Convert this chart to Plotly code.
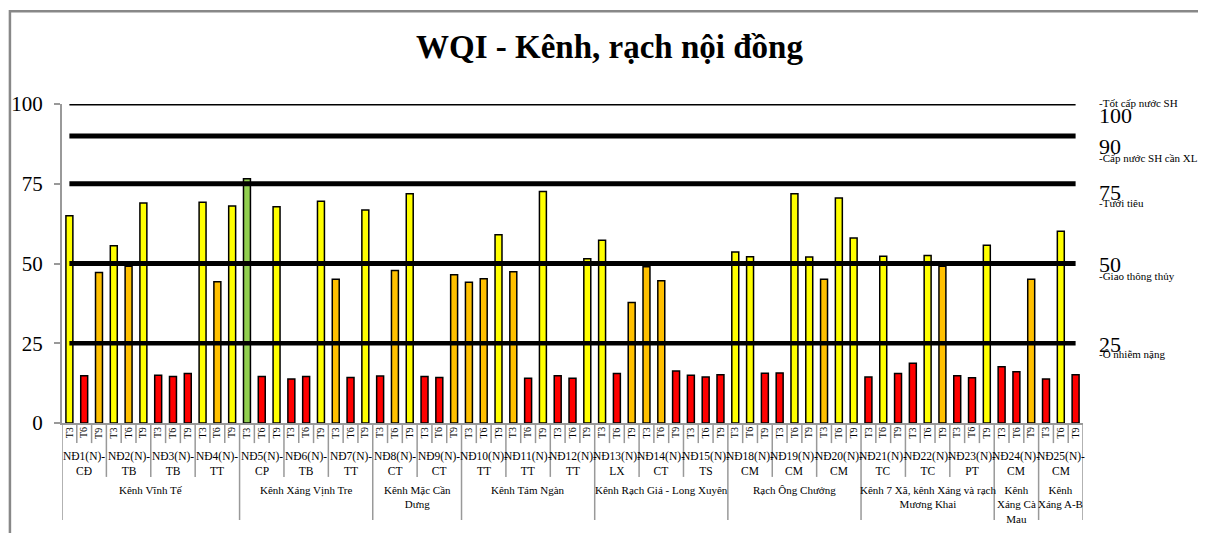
import plotly.graph_objects as go

# ---------------- data ----------------
months = ["T3", "T6", "T9"]
stations = ["NĐ1(N)-", "NĐ2(N)-", "NĐ3(N)-", "NĐ4(N)-", "NĐ5(N)-", "NĐ6(N)-", "NĐ7(N)-",
            "NĐ8(N)-", "NĐ9(N)-", "NĐ10(N)-", "NĐ11(N)-", "NĐ12(N)-", "NĐ13(N)-", "NĐ14(N)-",
            "NĐ15(N)-", "NĐ18(N)-", "NĐ19(N)-", "NĐ20(N)-", "NĐ21(N)-", "NĐ22(N)-", "NĐ23(N)-",
            "NĐ24(N)-", "NĐ25(N)-"]
station_suffix = ["CĐ", "TB", "TB", "TT", "CP", "TB", "TT", "CT", "CT", "TT", "TT", "TT", "LX",
                  "CT", "TS", "CM", "CM", "CM", "TC", "TC", "PT", "CM", "CM"]
groups = ["Kênh Vĩnh Tế", "Kênh Xáng Vịnh Tre", "Kênh Mặc Cần<br>Dưng", "Kênh Tám Ngàn",
          "Kênh Rạch Giá - Long Xuyên", "Rạch Ông Chưởng",
          "Kênh 7 Xã, kênh Xáng và rạch<br>Mương Khai", "Kênh<br>Xáng Cà<br>Mau", "Kênh<br>Xáng A-B"]
group_sizes = [4, 3, 2, 3, 3, 3, 3, 1, 1]  # number of stations per group

wqi = [65.0, 14.8, 47.2,  55.6, 49.1, 69.0,  15.0, 14.6, 15.5,  69.2, 44.3, 68.0,
       76.6, 14.6, 67.8,  13.8, 14.6, 69.5,  45.1, 14.3, 66.8,
       14.7, 47.8, 71.9,  14.6, 14.3, 46.5,
       44.1, 45.2, 59.0,  47.4, 14.0, 72.6,  14.8, 14.0, 51.5,
       57.3, 15.5, 37.8,  49.0, 44.6, 16.3,  15.0, 14.4, 15.1,
       53.6, 52.1, 15.6,  15.7, 71.9, 52.0,  45.1, 70.5, 58.0,
       14.4, 52.3, 15.5,  18.7, 52.5, 49.1,  14.8, 14.2, 55.7,
       17.6, 16.1, 45.1,
       13.8, 60.1, 15.1]

thresholds = [100, 90, 75, 50, 25]
threshold_labels = ["-Tốt cấp nước SH", "-Cấp nước SH cần XL", "-Tưới tiêu",
                    "-Giao thông thủy", "-Ô nhiễm nặng"]

# ---------------- styles ----------------
SERIF = "Liberation Serif"
GRID = "#999999"
line_widths = [3, 5, 5, 5, 4.5]
num_shift = [-11, -11, -9, -1, -1]     # px shift of the big number
lab_shift = [1, -22, -19, -12, -11]    # px shift of the descriptive label


def band_color(v):
    if v < 25:
        return "#FF0000"
    if v < 50:
        return "#FFC000"
    if v < 75:
        return "#FFFF00"
    if v < 90:
        return "#92D050"
    return "#0070C0"


n = len(wqi)
xs = list(range(n))
colors = [band_color(v) for v in wqi]

fig = go.Figure()
fig.add_trace(go.Bar(x=xs, y=wqi, width=0.47, marker=dict(color=colors,
                     line=dict(color="black", width=1.5)), showlegend=False,
                     hoverinfo="y"))

for t, w in zip(thresholds, line_widths):
    fig.add_trace(go.Scatter(x=[xs[0], xs[-1]], y=[t, t], mode="lines",
                             line=dict(color="black", width=w), showlegend=False,
                             hoverinfo="skip"))

shapes = []
annotations = []

# month labels
for i in xs:
    annotations.append(dict(x=i, y=-0.031, xref="x", yref="paper", text=months[i % 3],
                            showarrow=False, textangle=-90, yanchor="middle",
                            font=dict(family=SERIF, size=10, color="black")))
# station labels
for s, (st, suf) in enumerate(zip(stations, station_suffix)):
    annotations.append(dict(x=3 * s + 1, y=-0.127, xref="x", yref="paper",
                            text=st + "<br>" + suf, showarrow=False, yanchor="middle",
                            font=dict(family=SERIF, size=11.5, color="black")))
# group labels
start = 0
group_bounds = [-0.5]
for g, size in zip(groups, group_sizes):
    ncat = 3 * size
    annotations.append(dict(x=start + (ncat - 1) / 2, y=-0.185, xref="x", yref="paper",
                            text=g, showarrow=False, yanchor="top",
                            font=dict(family=SERIF, size=11, color="black")))
    start += ncat
    group_bounds.append(start - 0.5)

station_bounds = [3 * s - 0.5 for s in range(len(stations) + 1)]
for b in range(n + 1):
    xb = b - 0.5
    if xb in group_bounds:
        y1 = -0.304
    elif xb in station_bounds:
        y1 = -0.169
    else:
        y1 = -0.063
    shapes.append(dict(type="line", xref="x", yref="paper", x0=xb, x1=xb, y0=0, y1=y1,
                       line=dict(color=GRID, width=1.5)))

# threshold labels on right
for t, lab, ns, ls in zip(thresholds, threshold_labels, num_shift, lab_shift):
    annotations.append(dict(x=1.014, y=t, xref="paper", yref="y", text=str(t),
                            showarrow=False, xanchor="left", yanchor="middle", yshift=ns,
                            font=dict(family=SERIF, size=22, color="black")))
    annotations.append(dict(x=1.014, y=t, xref="paper", yref="y", text=lab,
                            showarrow=False, xanchor="left", yanchor="middle", yshift=ls,
                            font=dict(family=SERIF, size=11, color="black")))

# title
annotations.append(dict(x=0.536, y=1.179, xref="paper", yref="paper",
                        text="<b>WQI - Kênh, rạch nội đồng</b>", showarrow=False,
                        yanchor="middle",
                        font=dict(family=SERIF, size=33, color="black")))

# outer frame
shapes.append(dict(type="rect", xref="paper", yref="paper", x0=-0.051, x1=1.3,
                   y0=-0.6, y1=1.291, line=dict(color="#888888", width=2.5)))

# page body has an 8px margin: shift the figure by -8px so it lines up
fig.update_layout(
    width=1198, height=525,
    margin=dict(l=54, r=123, t=96, b=110, autoexpand=False),
    paper_bgcolor="white", plot_bgcolor="white",
    bargap=0.5,
    shapes=shapes, annotations=annotations,
    xaxis=dict(range=[-0.5, n - 0.5], showticklabels=False, ticks="", showgrid=False,
               zeroline=False, showline=True, linecolor=GRID, linewidth=2,
               automargin=False),
    yaxis=dict(range=[0, 100], tickvals=[0, 25, 50, 75, 100], showgrid=False,
               zeroline=False, showline=True, linecolor=GRID, linewidth=2,
               ticks="outside", ticklen=6, tickcolor=GRID, tickwidth=1.5,
               ticklabelstandoff=7, automargin=False,
               tickfont=dict(family=SERIF, size=21, color="black")),
)

fig.write_html("out.html")
